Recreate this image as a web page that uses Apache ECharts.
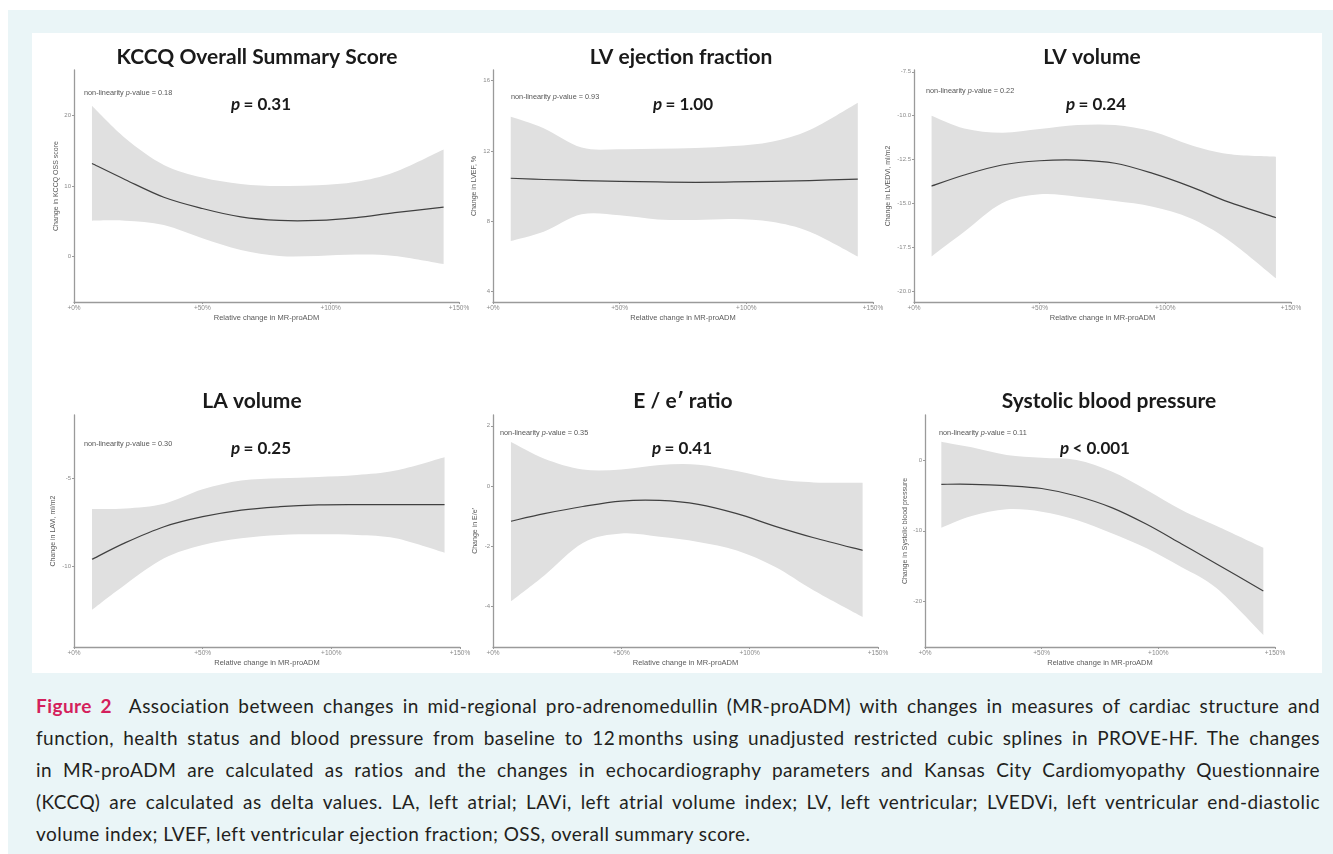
<!DOCTYPE html>
<html>
<head>
<meta charset="utf-8">
<script src="https://cdn.jsdelivr.net/npm/echarts@6/dist/echarts.min.js"></script>
<style>
  html, body { margin: 0; padding: 0; background: #ffffff; }
  #bg { position: absolute; left: 8px; top: 10px; width: 1325px; height: 844px; background: #eaf5f7; }
  #panel { position: absolute; left: 32px; top: 33px; width: 1290px; height: 640px; background: #ffffff; }
  #chart { position: absolute; left: 0; top: 0; width: 1333px; height: 680px; }
  #cap { position: absolute; left: 36px; top: 690px; width: 1284px; font-family: Lato, "Open Sans", sans-serif; font-size: 19px; letter-spacing: 0.45px; line-height: 32px; color: #231f20; }
  #cap .j { text-align: justify; text-align-last: justify; }
  #cap b { color: #d41f5c; }
</style>
</head>
<body>
<div id="bg"></div>
<div id="panel"></div>
<div id="chart"></div>
<div id="cap">
  <div class="j"><b>Figure 2</b>&nbsp; Association between changes in mid-regional pro-adrenomedullin (MR-proADM) with changes in measures of cardiac structure and</div>
  <div class="j">function, health status and blood pressure from baseline to 12&#8201;months using unadjusted restricted cubic splines in PROVE-HF. The changes</div>
  <div class="j">in MR-proADM are calculated as ratios and the changes in echocardiography parameters and Kansas City Cardiomyopathy Questionnaire</div>
  <div class="j">(KCCQ) are calculated as delta values. LA, left atrial; LAVi, left atrial volume index; LV, left ventricular; LVEDVi, left ventricular end-diastolic</div>
  <div>volume index; LVEF, left ventricular ejection fraction; OSS, overall summary score.</div>
</div>
<script>
// ---------------- DATA ----------------
const xTicks = [0, 50, 100, 150];
const xTickLabels = ['+0%', '+50%', '+100%', '+150%'];
const xAxisTitle = 'Relative change in MR-proADM';

const panelTitles = ['KCCQ Overall Summary Score', 'LV ejection fraction', 'LV volume', 'LA volume', 'E / e\u2032 ratio', 'Systolic blood pressure'];
const yAxisTitles = ['Change in KCCQ OSS score', 'Change in LVEF, %', 'Change in LVEDVi, ml/m2', 'Change in LAVi, ml/m2', 'Change in E/e\u2032', 'Change in Systolic blood pressure'];
const pOverall = ['= 0.31', '= 1.00', '= 0.24', '= 0.25', '= 0.41', '< 0.001'];
const pNonLinear = ['0.18', '0.93', '0.22', '0.30', '0.35', '0.11'];

// KCCQ
const kccqX   = [7, 20, 35, 50, 65, 80, 95, 110, 125, 144];
const kccqFit = [13.2, 10.9, 8.4, 6.8, 5.6, 5.1, 5.1, 5.5, 6.2, 7.0];
const kccqLow = [5.07, 5.07, 4.45, 2.56, 0.9, 0.05, 0.05, 0.24, 0.05, -1.1];
const kccqUp  = [21.4, 16.8, 13.0, 11.2, 10.3, 10.0, 10.1, 10.6, 12.0, 15.2];
const kccqTicks = [0, 10, 20];

// LVEF
const lvefX   = [7, 20, 35, 50, 65, 80, 95, 110, 125, 144];
const lvefFit = [10.45, 10.38, 10.32, 10.27, 10.24, 10.22, 10.24, 10.27, 10.32, 10.4];
const lvefLow = [6.88, 7.41, 8.4, 8.34, 8.11, 8.08, 8.13, 7.98, 7.41, 6.0];
const lvefUp  = [13.95, 13.3, 12.2, 12.1, 12.13, 12.17, 12.28, 12.53, 13.2, 14.75];
const lvefTicks = [4, 8, 12, 16];

// LV volume (LVEDVi)
const lvvX   = [7, 20, 35, 50, 65, 80, 95, 110, 125, 144];
const lvvFit = [-14.0, -13.37, -12.8, -12.56, -12.52, -12.7, -13.28, -14.03, -14.9, -15.8];
const lvvLow = [-18.0, -16.6, -14.98, -14.47, -14.6, -14.85, -15.17, -15.83, -17.06, -19.24];
const lvvUp  = [-10.0, -10.72, -10.97, -10.76, -10.53, -10.53, -10.9, -11.67, -12.18, -12.33];
const lvvTicks = [-20, -17.5, -15, -12.5, -10, -7.5];

// LA volume (LAVi)
const lavX   = [7, 20, 35, 50, 65, 80, 95, 110, 125, 144];
const lavFit = [-9.62, -8.67, -7.76, -7.19, -6.81, -6.62, -6.52, -6.5, -6.5, -6.5];
const lavLow = [-12.5, -11.05, -9.56, -8.8, -8.42, -8.23, -8.19, -8.23, -8.42, -9.24];
const lavUp  = [-6.75, -6.72, -6.45, -5.63, -5.13, -5.0, -4.92, -4.81, -4.56, -3.8];
const lavTicks = [-10, -5];

// E/e'
const eeX   = [7, 20, 35, 50, 65, 80, 95, 110, 125, 144];
const eeFit = [-1.17, -0.92, -0.68, -0.5, -0.48, -0.61, -0.92, -1.34, -1.72, -2.14];
const eeLow = [-3.83, -2.97, -1.89, -1.58, -1.69, -1.86, -2.14, -2.69, -3.47, -4.35];
const eeUp  = [1.46, 0.91, 0.55, 0.55, 0.70, 0.71, 0.5, 0.23, 0.12, 0.11];
const eeTicks = [-4, -2, 0, 2];

// Systolic blood pressure
const sbpX   = [7, 20, 35, 50, 65, 80, 95, 110, 125, 145];
const sbpFit = [-3.4, -3.4, -3.6, -4.0, -5.06, -6.71, -9.08, -11.87, -14.7, -18.53];
const sbpLow = [-9.55, -7.9, -6.95, -7.28, -8.46, -10.35, -12.48, -15.18, -18.16, -24.78];
const sbpUp  = [2.65, 1.84, 0.76, 0.38, 0.05, -1.6, -4.2, -7.04, -9.31, -12.39];
const sbpTicks = [-20, -10, 0];

// ---------------- LAYOUT ----------------
const panels = [
  { x: kccqX, fit: kccqFit, low: kccqLow, up: kccqUp, ticks: kccqTicks, min: -6.5, max: 26.5, dec: 0,
    grid: { left: 74, top: 70, width: 385, height: 232 }, nameGap: 14, titleX: 257, titleY: 57, nlX: 84, nlY: 93, pX: 261, pY: 105 },
  { x: lvefX, fit: lvefFit, low: lvefLow, up: lvefUp, ticks: lvefTicks, min: 3.41, max: 16.61, dec: 0,
    grid: { left: 493, top: 70, width: 380, height: 232 }, nameGap: 15, titleX: 681, titleY: 57, nlX: 511, nlY: 97, pX: 683, pY: 105 },
  { x: lvvX, fit: lvvFit, low: lvvLow, up: lvvUp, ticks: lvvTicks, min: -20.59, max: -7.4, dec: 1,
    grid: { left: 914, top: 70, width: 377, height: 232 }, nameGap: 22, titleX: 1092, titleY: 57, nlX: 926, nlY: 91, pX: 1096, pY: 105 },
  { x: lavX, fit: lavFit, low: lavLow, up: lavUp, ticks: lavTicks, min: -14.62, max: -1.39, dec: 0,
    grid: { left: 74, top: 415, width: 386, height: 232 }, nameGap: 17, titleX: 252, titleY: 401, nlX: 84, nlY: 444, pX: 261, pY: 449 },
  { x: eeX, fit: eeFit, low: eeLow, up: eeUp, ticks: eeTicks, min: -5.35, max: 2.36, dec: 0,
    grid: { left: 493, top: 415, width: 385, height: 232 }, nameGap: 14, titleX: 683, titleY: 401, nlX: 500, nlY: 433, pX: 682, pY: 449 },
  { x: sbpX, fit: sbpFit, low: sbpLow, up: sbpUp, ticks: sbpTicks, min: -26.48, max: 6.43, dec: 0,
    grid: { left: 925, top: 415, width: 350, height: 232 }, nameGap: 16, titleX: 1109, titleY: 401, nlX: 939, nlY: 433, pX: 1095, pY: 449 }
];

const AXIS_COLOR = '#9a9a9a';
const LABEL_FONT = '"Liberation Sans", Arial, sans-serif';

// Catmull-Rom spline through pixel points -> cubic bezier path segments
function splineSegs(pts) {
  let d = '';
  for (let i = 0; i < pts.length - 1; i++) {
    const p0 = pts[i - 1] || pts[i], p1 = pts[i], p2 = pts[i + 1], p3 = pts[i + 2] || pts[i + 1];
    const c1 = [p1[0] + (p2[0] - p0[0]) / 6, p1[1] + (p2[1] - p0[1]) / 6];
    const c2 = [p2[0] - (p3[0] - p1[0]) / 6, p2[1] - (p3[1] - p1[1]) / 6];
    d += ' C' + c1[0] + ' ' + c1[1] + ' ' + c2[0] + ' ' + c2[1] + ' ' + p2[0] + ' ' + p2[1];
  }
  return d;
}

const grids = [], xAxes = [], yAxes = [], series = [], graphics = [];

panels.forEach((p, i) => {
  grids.push(Object.assign({ containLabel: false }, p.grid));
  xAxes.push({
    type: 'value', gridIndex: i, min: 0, max: 150, interval: 50, z: 10,
    name: xAxisTitle, nameLocation: 'middle', nameGap: 12,
    nameTextStyle: { fontSize: 7.5, color: '#5a5a5a', fontFamily: LABEL_FONT },
    axisLine: { show: true, onZero: false, lineStyle: { color: AXIS_COLOR, width: 1.3 } },
    axisTick: { show: true, length: 2, lineStyle: { color: AXIS_COLOR } },
    axisLabel: { fontSize: 6.5, color: '#8a8a8a', margin: 3, fontFamily: LABEL_FONT,
      formatter: v => xTickLabels[xTicks.indexOf(v)] || '', showMinLabel: true, showMaxLabel: true },
    splitLine: { show: false }
  });
  yAxes.push({
    type: 'value', gridIndex: i, min: p.min, max: p.max, z: 10,
    name: yAxisTitles[i], nameLocation: 'middle', nameGap: p.nameGap, nameRotate: 90,
    nameTextStyle: { fontSize: 7, color: '#5a5a5a', fontFamily: LABEL_FONT },
    axisLine: { show: true, onZero: false, lineStyle: { color: AXIS_COLOR, width: 1.3 } },
    axisTick: { show: true, length: 2, customValues: p.ticks, lineStyle: { color: AXIS_COLOR } },
    axisLabel: { fontSize: 6, color: '#8a8a8a', margin: 3, fontFamily: LABEL_FONT, customValues: p.ticks,
      formatter: v => Number(v).toFixed(p.dec) },
    splitLine: { show: false }
  });

  const bandData = p.x.map((x, k) => [x, p.low[k], p.up[k]]);
  const fitData = p.x.map((x, k) => [x, p.fit[k]]);

  // confidence band as one closed smooth shape (coordinates via api.coord)
  series.push({
    type: 'custom', coordinateSystem: 'cartesian2d', xAxisIndex: i, yAxisIndex: i,
    data: bandData, silent: true, z: 1, clip: false,
    encode: { x: 0, y: [1, 2] },
    renderItem: (params, api) => {
      if (params.dataIndex !== 0) return null;
      const upPts = bandData.map(r => api.coord([r[0], r[2]]));
      const lowPts = bandData.map(r => api.coord([r[0], r[1]])).reverse();
      const d = 'M' + upPts[0][0] + ' ' + upPts[0][1] + splineSegs(upPts) +
                ' L' + lowPts[0][0] + ' ' + lowPts[0][1] + splineSegs(lowPts) + ' Z';
      return { type: 'path', shape: { pathData: d }, style: { fill: '#e0e0e0', stroke: null } };
    }
  });
  series.push({
    type: 'custom', coordinateSystem: 'cartesian2d', xAxisIndex: i, yAxisIndex: i,
    data: fitData, silent: true, z: 3, clip: false,
    encode: { x: 0, y: 1 },
    renderItem: (params, api) => {
      if (params.dataIndex !== 0) return null;
      const pts = fitData.map(r => api.coord(r));
      const d = 'M' + pts[0][0] + ' ' + pts[0][1] + splineSegs(pts);
      return { type: 'path', shape: { pathData: d }, style: { fill: null, stroke: '#404040', lineWidth: 1.2 } };
    }
  });

  graphics.push({
    type: 'text', x: p.titleX, y: p.titleY, z: 10,
    style: { text: panelTitles[i], font: 'bold 21px Lato, "Open Sans", sans-serif', fill: '#1a1a1a', align: 'center', verticalAlign: 'middle' }
  });
  graphics.push({
    type: 'text', x: p.nlX, y: p.nlY, z: 10,
    style: {
      text: '{n|non-linearity }{i|p}{n|-value = ' + pNonLinear[i] + '}',
      align: 'left', verticalAlign: 'middle',
      rich: {
        n: { fontSize: 7.3, fontFamily: LABEL_FONT, fill: '#555555', color: '#555555' },
        i: { fontSize: 7.3, fontFamily: LABEL_FONT, fontStyle: 'italic', fill: '#555555', color: '#555555' }
      }
    }
  });
  graphics.push({
    type: 'text', x: p.pX, y: p.pY, z: 10,
    style: {
      text: '{i|p} {n|' + pOverall[i] + '}',
      align: 'center', verticalAlign: 'middle',
      rich: {
        i: { fontSize: 17, fontFamily: 'Lato, "Open Sans", sans-serif', fontWeight: 'bold', fontStyle: 'italic', fill: '#1a1a1a', color: '#1a1a1a' },
        n: { fontSize: 17, fontFamily: 'Lato, "Open Sans", sans-serif', fontWeight: 'bold', fill: '#1a1a1a', color: '#1a1a1a' }
      }
    }
  });
});

const chart = echarts.init(document.getElementById('chart'), null, { renderer: 'canvas' });
chart.setOption({
  animation: false,
  backgroundColor: 'transparent',
  grid: grids,
  xAxis: xAxes,
  yAxis: yAxes,
  series: series,
  graphic: graphics
});
</script>
</body>
</html>
